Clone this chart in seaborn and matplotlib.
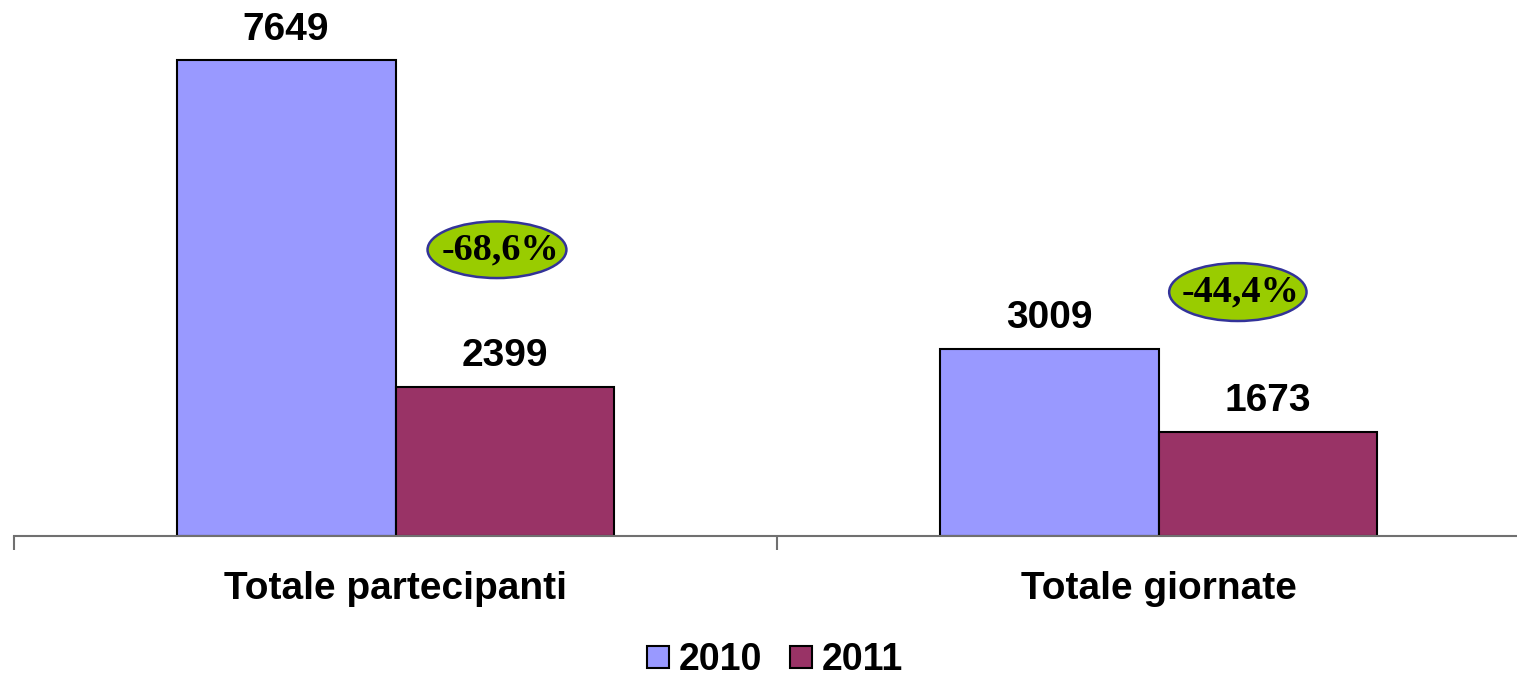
import matplotlib
matplotlib.use("Agg")
import matplotlib.pyplot as plt
from matplotlib.patches import Ellipse, Patch
import seaborn as sns
import pandas as pd

categories = ["Totale partecipanti", "Totale giornate"]
years = ["2010", "2011"]
values_2010 = [7649, 3009]
values_2011 = [2399, 1673]
colors = {"2010": "#9999FF", "2011": "#993366"}

df = pd.DataFrame({
    "categoria": categories * 2,
    "anno": [years[0]] * 2 + [years[1]] * 2,
    "valore": values_2010 + values_2011,
})

sns.set_theme(style="white")
plt.rcParams["font.family"] = ["Liberation Sans", "DejaVu Sans"]
plt.rcParams["text.color"] = "black"

fig = plt.figure(figsize=(15.17, 6.79), dpi=100)
W, H = 1517, 679
ax = fig.add_axes([14 / W, (H - 536) / H, (1540 - 14) / W, 536 / H])

sns.barplot(data=df, x="categoria", y="valore", hue="anno", order=categories,
            hue_order=years, palette=colors, width=0.574, gap=0,
            edgecolor="black", linewidth=1.5, saturation=1, legend=False, ax=ax)

ax.set_xlim(-0.5, 1.5)
ax.set_ylim(0, 536 / 0.06223)
ax.set_xlabel("")
ax.set_ylabel("")
ax.set_yticks([])
for s in ["left", "right", "top"]:
    ax.spines[s].set_visible(False)
ax.spines["bottom"].set_color("#707070")
ax.spines["bottom"].set_linewidth(1.5)

ax.set_xticks([0, 1])
ax.set_xticklabels(categories, fontsize=28, fontweight="bold", color="black")
ax.tick_params(axis="x", which="major", length=0, pad=25)
ax.set_xticks([-0.5, 0.5, 1.5], minor=True)
ax.tick_params(axis="x", which="minor", length=10, width=1.5, color="#707070",
               direction="out", bottom=True)

# value labels above each bar
for cont in ax.containers:
    ax.bar_label(cont, labels=[f"{int(v)}" for v in cont.datavalues],
                 padding=9, fontsize=28, fontweight="bold", color="black")

# percentage change badges
badges = [(0.133, 4600, 0.182, 910), (1.104, 3920, 0.18, 930)]
for (cx, cy, ew, eh), a, b in zip(badges, values_2010, values_2011):
    ax.add_patch(Ellipse((cx, cy), ew, eh, facecolor="#99CC00",
                         edgecolor="#333399", linewidth=1.8, zorder=5))
    pct = (b - a) / a * 100
    txt = f"{pct:.1f}%".replace(".", ",")
    ax.text(cx + 0.004, cy, txt, ha="center", va="center", fontsize=27.5,
            fontweight="bold", family=["Liberation Serif", "DejaVu Serif"],
            color="black", zorder=6)

handles = [Patch(facecolor=colors[y], edgecolor="black", linewidth=1.5, label=y)
           for y in years]
leg = fig.legend(handles=handles, loc="center", bbox_to_anchor=(775 / W, 1 - 660 / H),
                 ncol=2, frameon=False, prop={"size": 27, "weight": "bold"},
                 handlelength=0.59, handleheight=0.52, handletextpad=0.25,
                 columnspacing=0.75)
for t in leg.get_texts():
    t.set_color("black")

fig.savefig("out.png", dpi=100)
